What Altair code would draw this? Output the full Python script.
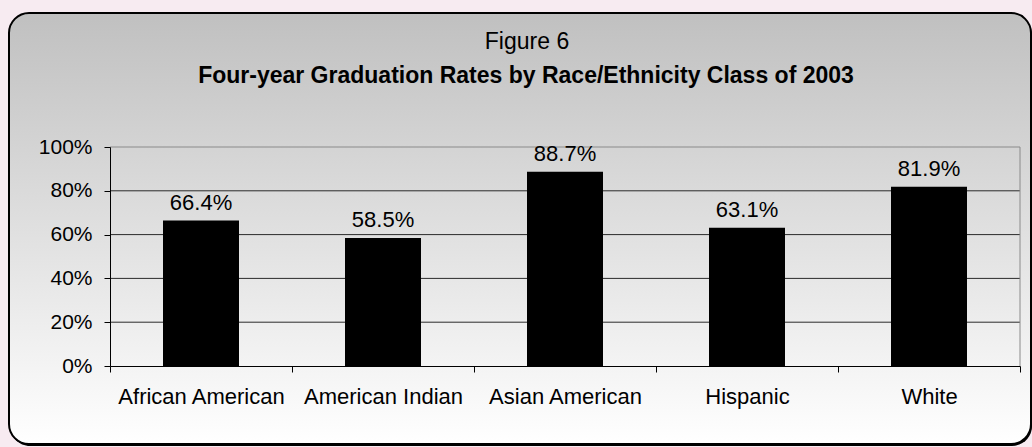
import altair as alt
import pandas as pd

# ---- data ----
categories = ["African American", "American Indian", "Asian American", "Hispanic", "White"]
rates = [0.664, 0.585, 0.887, 0.631, 0.819]
rate_labels = ["66.4%", "58.5%", "88.7%", "63.1%", "81.9%"]
y_ticks = [0, 0.2, 0.4, 0.6, 0.8, 1.0]
grid_values = [0.2, 0.4, 0.6, 0.8, 1.0]

title_text = "Figure 6"
subtitle_text = "Four-year Graduation Rates by Race/Ethnicity Class of 2003"

FONT = "Liberation Sans"
W, H = 910, 219

bars_df = pd.DataFrame({"category": categories, "rate": rates, "label": rate_labels})
grid_df = pd.DataFrame({"rate": grid_values})
one = alt.Data(values=[{"k": 1}])

y_scale = alt.Scale(domain=[0, 1])

box_gradient = alt.Gradient(
    gradient="linear",
    stops=[alt.GradientStop(color="#c0c0c0", offset=0),
           alt.GradientStop(color="#ffffff", offset=1)],
    x1=0, x2=0, y1=0, y2=1,
)

# decorative rounded frame (shadow + box)
shadow = alt.Chart(one).mark_rect(color="#000000", cornerRadius=20).encode(
    x=alt.value(-100), x2=alt.value(922), y=alt.value(-132), y2=alt.value(299)
)
box = alt.Chart(one).mark_rect(
    fill=box_gradient, stroke="#000000", strokeWidth=2, cornerRadius=20
).encode(
    x=alt.value(-101), x2=alt.value(921), y=alt.value(-134), y2=alt.value(297)
)

# titles as text
title_mark = alt.Chart(one).mark_text(
    font=FONT, fontSize=23, color="#000000", align="center", baseline="alphabetic"
).encode(x=alt.value(417), y=alt.value(-98), text=alt.value(title_text))
subtitle_mark = alt.Chart(one).mark_text(
    font=FONT, fontSize=23, fontWeight="bold", color="#000000", align="center",
    baseline="alphabetic"
).encode(x=alt.value(416), y=alt.value(-64), text=alt.value(subtitle_text))

y_enc = alt.Y(
    "rate:Q", scale=y_scale,
    axis=alt.Axis(
        title=None, values=y_ticks, format=".0%", grid=False, tickSize=6,
        labelPadding=12, labelFont=FONT, labelFontSize=21, labelColor="#000000",
        domainColor="#000000", tickColor="#000000", zindex=1,
    ),
)

# gridlines drawn behind bars
grid = alt.Chart(grid_df).mark_rule(strokeWidth=1).encode(
    y=y_enc,
    color=alt.condition("datum.rate >= 0.999", alt.value("#8a8a8a"), alt.value("#2a2a2a")),
)
right_border = alt.Chart(one).mark_rule(color="#8a8a8a", strokeWidth=1).encode(
    x=alt.value(W), y=alt.value(0), y2=alt.value(H)
)

x_enc = alt.X(
    "category:N", sort=categories,
    scale=alt.Scale(paddingInner=0, paddingOuter=0),
    axis=alt.Axis(
        title=None, labelAngle=0, tickBand="extent", tickSize=6, labelPadding=14,
        labelFont=FONT, labelFontSize=22, labelColor="#000000",
        domainColor="#000000", tickColor="#000000", labelOverlap=False,
        labelLimit=0, zindex=1,
    ),
)

bars = alt.Chart(bars_df).mark_bar(color="#000000", size=76).encode(x=x_enc, y=y_enc)
labels = alt.Chart(bars_df).mark_text(
    dy=-11, baseline="alphabetic", font=FONT, fontSize=22, color="#000000"
).encode(x=x_enc, y=y_enc, text="label:N")

chart = alt.layer(
    shadow, box, title_mark, subtitle_mark, grid, right_border, bars, labels
).properties(
    width=W, height=H,
    autosize=alt.AutoSizeParams(type="none"),
    padding={"left": 110, "top": 147, "right": 12, "bottom": 81},
    background="#f7ebf1",
).configure_view(stroke=None)

chart.save("out.html", embed_options={"renderer": "svg", "actions": False})
